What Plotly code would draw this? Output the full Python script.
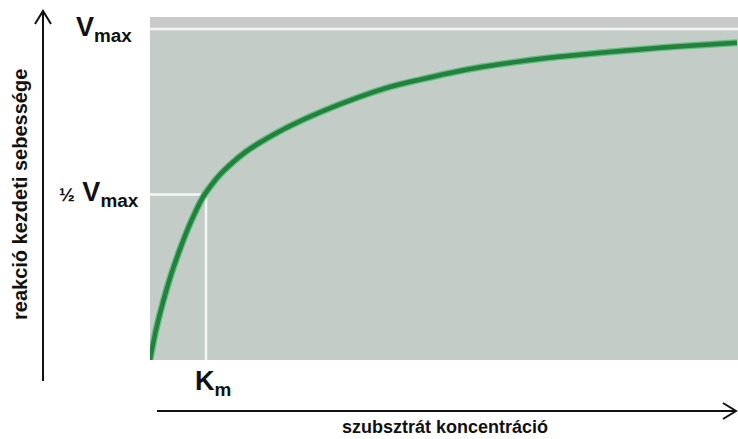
import plotly.graph_objects as go

# Data (concentration in Km units, rate as fraction of Vmax)
substrate = [0, 0.107, 0.232, 0.375, 0.536, 0.714, 0.946, 1.071, 1.25, 1.464, 1.696, 1.964,
             2.232, 2.5, 3.089, 3.696, 4.286, 4.821, 5.357, 5.893, 6.482, 7.089, 7.679,
             8.518, 9.107, 9.696, 10.482]
rate = [0, 0.091, 0.175, 0.257, 0.335, 0.411, 0.492, 0.523, 0.560, 0.595, 0.627, 0.657,
        0.683, 0.707, 0.752, 0.792, 0.825, 0.847, 0.867, 0.884, 0.899, 0.912, 0.922,
        0.935, 0.943, 0.950, 0.958]
VMAX = 1.0
KM = 1.0
X_RANGE = [0, 10.5]
Y_RANGE = [0, 1.036]

W, H = 738, 439
L, R, T, B = 150, 0, 17, 79
PW, PH = W - L - R, H - T - B

def px(xpix):
    return (xpix - L) / PW

def py(ypix):
    return (H - B - ypix) / PH

FONT = "Liberation Sans, Arial, sans-serif"
BG = "#c4ccc8"

fig = go.Figure()
fig.add_trace(go.Scatter(x=substrate, y=rate, mode="lines",
                         line=dict(color="#63c07f", width=7, shape="spline", smoothing=0.8),
                         hoverinfo="skip", showlegend=False))
fig.add_trace(go.Scatter(x=substrate, y=rate, mode="lines",
                         line=dict(color="#24803f", width=4.5, shape="spline", smoothing=0.8),
                         hoverinfo="skip", showlegend=False))

shapes = [
    dict(type="rect", xref="paper", yref="paper", x0=0, x1=1, y0=py(27), y1=1,
         fillcolor="#c8cac9", line=dict(width=0), layer="below"),
    dict(type="line", xref="paper", yref="y", x0=0, x1=1, y0=VMAX, y1=VMAX,
         line=dict(color="#f3f6f4", width=2.5), layer="below"),
    dict(type="line", xref="x", yref="y", x0=0, x1=KM, y0=VMAX / 2, y1=VMAX / 2,
         line=dict(color="#f3f6f4", width=2.5), layer="below"),
    dict(type="line", xref="x", yref="y", x0=KM, x1=KM, y0=0, y1=VMAX / 2,
         line=dict(color="#f3f6f4", width=2.5), layer="below"),
    dict(type="line", xref="paper", yref="paper", x0=px(43), x1=px(43), y0=py(381), y1=py(11),
         line=dict(color="#111111", width=2)),
    dict(type="path", xref="paper", yref="paper",
         path=f"M {px(35)} {py(24)} L {px(43)} {py(11)} L {px(51)} {py(24)}",
         line=dict(color="#111111", width=2)),
    dict(type="line", xref="paper", yref="paper", x0=px(157), x1=px(736), y0=py(411), y1=py(411),
         line=dict(color="#111111", width=2)),
    dict(type="path", xref="paper", yref="paper",
         path=f"M {px(723)} {py(403)} L {px(736)} {py(411)} L {px(723)} {py(419)}",
         line=dict(color="#111111", width=2)),
]

annotations = [
    dict(text="<b>V<sub>max</sub></b>", xref="paper", yref="y", x=px(134), y=VMAX,
         xanchor="right", yanchor="middle", showarrow=False,
         font=dict(family=FONT, size=27, color="#111111")),
    dict(text="<b><span style='font-size:19px'>½</span> V<sub>max</sub></b>", xref="paper", yref="y",
         x=px(141), y=VMAX / 2, xanchor="right", yanchor="middle", showarrow=False,
         font=dict(family=FONT, size=27, color="#111111")),
    dict(text="<b>K<sub>m</sub></b>", xref="x", yref="paper", x=KM, y=py(364),
         xanchor="center", yanchor="top", xshift=7, showarrow=False,
         font=dict(family=FONT, size=27, color="#111111")),
    dict(text="<b>reakció kezdeti sebessége</b>", xref="paper", yref="paper",
         x=px(20), y=py(195), textangle=-90, showarrow=False,
         xanchor="center", yanchor="middle",
         font=dict(family=FONT, size=20, color="#111111")),
    dict(text="<b>szubsztrát koncentráció</b>", xref="paper", yref="paper",
         x=px(445), y=py(427), showarrow=False, xanchor="center", yanchor="middle",
         font=dict(family=FONT, size=18, color="#111111")),
]

fig.update_layout(
    width=W, height=H,
    margin=dict(l=L, r=R, t=T, b=B),
    paper_bgcolor="white", plot_bgcolor=BG,
    xaxis=dict(range=X_RANGE, visible=False, fixedrange=True),
    yaxis=dict(range=Y_RANGE, visible=False, fixedrange=True),
    shapes=shapes, annotations=annotations,
    showlegend=False,
)

fig.write_html("out.html", config={"displayModeBar": False},
               post_script="document.body.style.margin='0';document.body.style.overflow='hidden';")
